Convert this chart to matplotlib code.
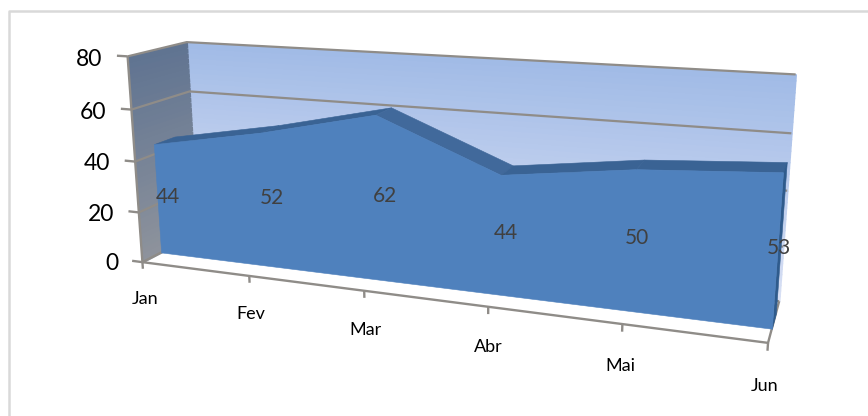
import numpy as np
import matplotlib
matplotlib.use("Agg")
import matplotlib.pyplot as plt
from matplotlib.lines import Line2D
from matplotlib.colors import to_rgb
from mpl_toolkits.mplot3d import proj3d
from mpl_toolkits.mplot3d.art3d import Poly3DCollection

months = ["Jan", "Fev", "Mar", "Abr", "Mai", "Jun"]
values = [44, 52, 62, 44, 50, 53]
z_ticks = [0, 20, 40, 60, 80]

W, H = 868, 416
plt.rcParams["font.family"] = ["Lato", "DejaVu Sans"]
fig = plt.figure(figsize=(W / 100, H / 100), dpi=100)

# light frame along the top and left of the chart
fig.add_artist(Line2D([8.5 / W, 8.5 / W, 1], [0, 1 - 11 / H, 1 - 11 / H],
                      transform=fig.transFigure, color="#D9D9D9", lw=1.8))

ax = fig.add_subplot(projection="3d", computed_zorder=False)
ax.set_xlim(0, 5, view_margin=0)
ax.set_ylim(0, 1, view_margin=0)
ax.set_zlim(0, 80, view_margin=0)
ax.set_axis_off()
ax.patch.set_alpha(0)

ax.view_init(14.5193, -69.5150, 0.2018)
ax.set_proj_type("persp", focal_length=0.3245)
ax.set_box_aspect((2.93, 0.4959, 1), zoom=1.0188)
side = 1.6
ax.set_position([435.3 / W - side * H / W / 2, 1 - 184.39 / H - side / 2, side * H / W, side])

front, back = 0.32, 0.68
GRID = "#8F8C88"


def polys(verts, color, z, lw=0.4):
    c = Poly3DCollection(verts, facecolors=color, edgecolors=color, linewidths=lw,
                         zorder=z, clip_on=False)
    ax.add_collection3d(c, autolim=False)


def blend(c1, c2, t):
    return tuple((1 - t) * np.array(to_rgb(c1)) + t * np.array(to_rgb(c2)))


def line(xs, ys, zs, lw=1.7, z=2):
    ax.plot(xs, ys, zs, color=GRID, lw=lw, zorder=z, clip_on=False, solid_capstyle="butt")


def label(x, y, z, s, **kw):
    # flat text placed at the projected spot so it stays upright
    px, py, _ = proj3d.proj_transform(x, y, z, ax.get_proj())
    ax.text2D(px, py, s, transform=ax.transData, va="center", clip_on=False, **kw)


# back and side walls, shaded in thin bands
edges = np.linspace(0, 80, 41)
for lo, hi in zip(edges[:-1], edges[1:]):
    t = lo / 80
    polys([[(0, 1, lo), (5, 1, lo), (5, 1, hi), (0, 1, hi)]], blend("#D8E0F4", "#A0BAE6", t), 1, lw=1.2)
    polys([[(0, 0, lo), (0, 1, lo), (0, 1, hi), (0, 0, hi)]], blend("#8E939C", "#5F7391", t), 1, lw=1.2)

for t in z_ticks:
    line([0, 0, 5], [0, 1, 1], [t, t, t], lw=1.6)
    line([-0.1, 0], [0, 0], [t, t])
    label(-0.24, 0, t - 1.8, str(t), ha="right", fontsize=16.5, color="black", zorder=8)

# floor edges and category axis
line([0, 5, 5], [0, 0, 1], [0, 0, 0], z=3)
line([0, 0], [0, 0], [0, 80], z=3)
for i, name in enumerate(months):
    line([i, i], [0, 0], [0, -2.7], z=3)
    label(i, 0, -15, name, ha="center", fontsize=13, color="black", zorder=8)

# area: top surface, end cap, then the front face over them
for i in range(len(values) - 1):
    rising = values[i + 1] >= values[i]
    polys([[(i, front, values[i]), (i + 1, front, values[i + 1]),
            (i + 1, back, values[i + 1]), (i, back, values[i])]],
          "#3A6394" if rising else "#41699B", 4)
polys([[(5, front, 0), (5, front, values[-1]), (5, back, values[-1]), (5, back, 0)]], "#2F5B8C", 4)
polys([[(0, front, 0)] + [(i, front, t) for i, t in enumerate(values)] + [(5, front, 0)]], "#4F81BD", 5)

for i, t in enumerate(values):
    label(i, 0.5, t / 2 - 1, str(t), ha="center", fontsize=15, color="#404040", zorder=9)

fig.savefig("out.png", dpi=100)
